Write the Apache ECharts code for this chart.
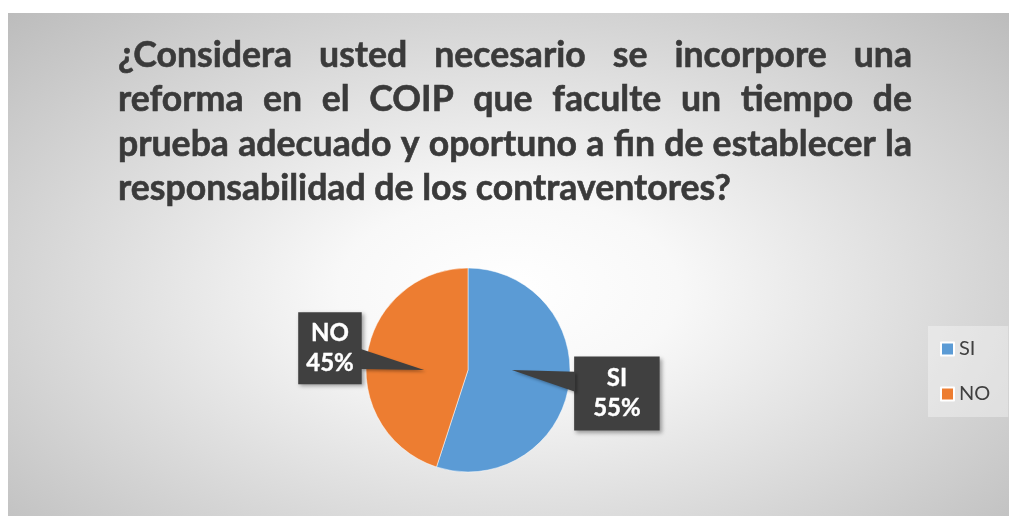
<!DOCTYPE html>
<html>
<head>
<meta charset="utf-8">
<script src="https://cdn.jsdelivr.net/npm/echarts@6/dist/echarts.min.js"></script>
<style>
  body { margin: 0; background: #fff; }
  #chart {
    position: absolute; left: 8px; top: 13px; width: 1001px; height: 503px;
    background: radial-gradient(ellipse farthest-corner at 50% 55%, #ffffff 0%, #f8f8f8 24%, #bcbcbc 100%);
  }
</style>
</head>
<body>
<div id="chart"></div>
<script>
var categories = ['SI', 'NO'];
var values = [55, 45];
var colors = ['#5B9BD5', '#ED7D31'];
var titleLines = [
  '¿Considera usted necesario se incorpore una',
  'reforma en el COIP que faculte un tiempo de',
  'prueba adecuado y oportuno a fin de establecer la',
  'responsabilidad de los contraventores?'
];

// layout (container px)
var CX = 460, CY = 357, R = 102;
var TITLE_X = 110, TITLE_W = 794;
var TITLE_BASE = [56, 100, 145, 189];
var labelPads = [[7, 19], [6, 8]];

var chart = echarts.init(document.getElementById('chart'));

// title: justified lines, font fitted to the tightest line
var ctx = document.createElement('canvas').getContext('2d');
ctx.font = 'bold 100px Lato';
var fs = 100 * (TITLE_W - 4) / ctx.measureText(titleLines[2]).width;
var tfont = 'bold ' + fs.toFixed(2) + 'px Lato';
ctx.font = tfont;
var titleEls = [];
titleLines.forEach(function (line, i) {
  var words = line.split(' ');
  var ws = words.map(function (w) { return ctx.measureText(w).width; });
  var total = ws.reduce(function (a, b) { return a + b; }, 0);
  var gap = i < 3 ? (TITLE_W - total) / (words.length - 1) : ctx.measureText(' ').width;
  var x = TITLE_X;
  words.forEach(function (w, j) {
    titleEls.push({
      type: 'text', x: x, y: TITLE_BASE[i] - 0.387 * fs, silent: true,
      style: { text: w, font: tfont, fill: '#3a3a3a', stroke: '#3a3a3a', lineWidth: 0.6, align: 'left', verticalAlign: 'middle' }
    });
    x += ws[j] + gap;
  });
});

// mid angle of each slice (startAngle 90, clockwise)
var sum = values.reduce(function (a, b) { return a + b; }, 0);
var midAngles = [], acc = 0;
values.forEach(function (v) {
  midAngles.push(Math.PI / 2 - 2 * Math.PI * (acc + v / 2) / sum);
  acc += v;
});

// callout pointers, filled in by labelLayout from the label boxes
var wedges = [];

function wedgeEls() {
  return wedges.filter(Boolean).map(function (pts) {
    return {
      type: 'polygon', z: 5, silent: true,
      shape: { points: pts },
      style: { fill: '#3f3f3f', shadowColor: 'rgba(0,0,0,0.3)', shadowBlur: 3, shadowOffsetX: 2, shadowOffsetY: 2 }
    };
  });
}

chart.setOption({
  animation: false,
  graphic: titleEls,
  legend: {
    orient: 'vertical', left: 920, top: 313,
    data: categories, icon: 'rect',
    itemWidth: 13, itemHeight: 13, itemGap: 25, itemTextGap: 5,
    padding: [13, 18, 13, 12],
    backgroundColor: 'rgba(255,255,255,0.35)',
    textStyle: { color: '#404040', fontSize: 20, lineHeight: 20, fontFamily: 'Lato' }
  },
  series: [{
    type: 'pie',
    center: [CX, CY],
    radius: R,
    startAngle: 90,
    clockwise: true,
    silent: true,
    itemStyle: { borderColor: '#ffffff', borderWidth: 0.5 },
    label: {
      show: true, position: 'outside',
      formatter: function (p) { return p.name + '\n' + Math.round(p.percent) + '%'; },
      color: '#ffffff', fontFamily: 'Lato', fontWeight: 'bold', fontSize: 24, lineHeight: 30,
      textBorderColor: '#ffffff', textBorderWidth: 0.4,
      align: 'center', backgroundColor: '#404040',
      shadowColor: 'rgba(0,0,0,0.35)', shadowBlur: 4, shadowOffsetX: 2, shadowOffsetY: 2
    },
    labelLine: { show: false },
    labelLayout: function (p) {
      var r = p.labelRect;
      var a = midAngles[p.dataIndex];
      var ux = Math.cos(a), uy = -Math.sin(a);
      var s = ux > 0 ? 1 : -1;
      var dist = R + r.width / 2 + 6;
      var bx = CX + ux * dist, by = CY + uy * dist;
      var tip = [CX + s * 0.43 * R, CY];
      var ex = bx - s * (r.width / 2 - 1);
      var my = (by + tip[1]) / 2;
      wedges[p.dataIndex] = [[ex, my - 10], [ex, my + 10], tip];
      return { x: bx, y: by, align: 'center', verticalAlign: 'middle' };
    },
    data: categories.map(function (c, i) {
      return { name: c, value: values[i], itemStyle: { color: colors[i] }, label: { padding: labelPads[i] } };
    })
  }]
});
chart.setOption({ graphic: titleEls.concat(wedgeEls()) });
</script>
</body>
</html>
